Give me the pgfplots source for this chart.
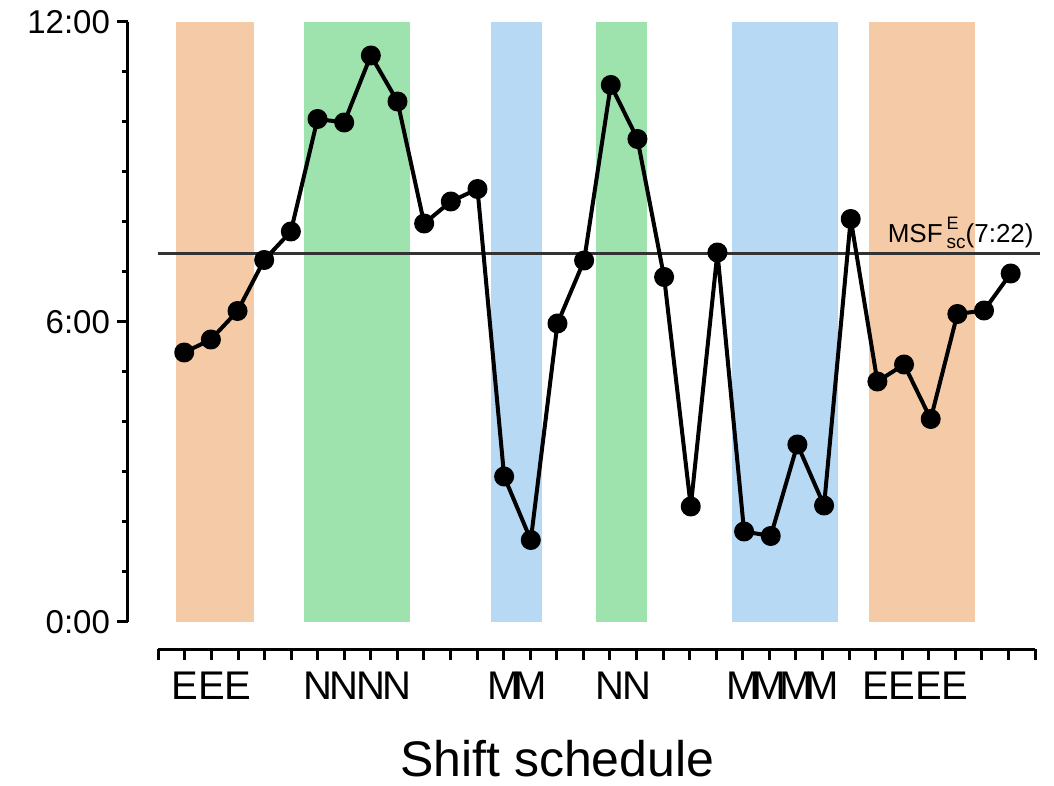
\documentclass[border=0pt]{standalone}
\usepackage{fontspec}
\setmainfont{Liberation Sans}
\usepackage{pgfplots}
\pgfplotsset{compat=1.18}
\usepackage{pgfplotstable}

% shift band colours
\definecolor{bandE}{RGB}{245,203,167}
\definecolor{bandN}{RGB}{158,226,174}
\definecolor{bandM}{RGB}{183,217,243}
\definecolor{msfgray}{RGB}{51,51,51}

% daily sleep midpoint (hours)
\pgfplotstableread{
day hours
1  5.39
2  5.65
3  6.22
4  7.24
5  7.81
6  10.06
7  9.99
8  11.33
9  10.41
10 7.97
11 8.41
12 8.66
13 2.91
14 1.64
15 5.97
16 7.23
17 10.74
18 9.66
19 6.90
20 2.31
21 7.39
22 1.81
23 1.72
24 3.55
25 2.33
26 8.06
27 4.81
28 5.15
29 4.06
30 6.16
31 6.23
32 6.97
}\sleepdata

\begin{document}
\begin{tikzpicture}
\path[use as bounding box] (-64pt,-82pt) rectangle (463pt,311pt);
\begin{axis}[
  at={(0,0)}, anchor=south west,
  scale only axis, width=456pt, height=300pt,
  xmin=-1.109, xmax=33.1, ymin=0, ymax=12,
  axis x line=none, axis y line*=left,
  y axis line style={line width=1.5pt, -},
  ytick={0,6,12}, yticklabels={0:00,6:00,12:00},
  minor y tick num=5,
  tick align=outside,
  major tick length=5.5pt, minor tick length=2.75pt,
  every tick/.style={black, line width=1.5pt},
  yticklabel style={font=\fontsize{16.5}{19}\selectfont},
  clip=false,
]
% shift blocks
\addplot[draw=none, fill=bandE, forget plot] coordinates {(0.69,0) (0.69,12) (3.61,12) (3.61,0)};
\addplot[draw=none, fill=bandN, forget plot] coordinates {(5.49,0) (5.49,12) (9.45,12) (9.45,0)};
\addplot[draw=none, fill=bandM, forget plot] coordinates {(12.49,0) (12.49,12) (14.43,12) (14.43,0)};
\addplot[draw=none, fill=bandN, forget plot] coordinates {(16.43,0) (16.43,12) (18.37,12) (18.37,0)};
\addplot[draw=none, fill=bandM, forget plot] coordinates {(21.56,0) (21.56,12) (25.52,12) (25.52,0)};
\addplot[draw=none, fill=bandE, forget plot] coordinates {(26.69,0) (26.69,12) (30.66,12) (30.66,0)};
% mid-sleep on free days, corrected
\addplot[msfgray, line width=1.75pt, forget plot] coordinates {(0,7.3667) (33.1,7.3667)};
\node[anchor=south east, inner sep=1.5pt, xshift=-1.5pt, yshift=1pt, font=\fontsize{13}{15}\selectfont]
  at (axis cs:33.1,7.3667)
  {MSF\hspace{2pt}\rlap{\raisebox{6.5pt}{\fontsize{9}{10}\selectfont E}}\raisebox{-3pt}{\fontsize{9.5}{10}\selectfont sc}(7:22)};
% daily values
\addplot[black, line width=2pt, line join=round, mark=*, mark size=4pt, mark options={solid, fill=black}]
  table[x=day, y=hours] {\sleepdata};
\end{axis}
\begin{axis}[
  at={(15.15pt,-13.5pt)}, anchor=south west,
  scale only axis, width=438.35pt, height=10pt,
  xmin=0, xmax=33, ymin=0, ymax=1,
  axis y line=none, axis x line*=bottom,
  x axis line style={line width=1.5pt, -},
  xtick={0,...,33},
  xticklabels={,E,E,E,,,N,N,N,N,,,,M,M,,,N,N,,,,M,M,M,M,,E,E,E,E,,,},
  tick align=outside,
  major tick length=5.3pt,
  every tick/.style={black, line width=1.5pt},
  xticklabel style={font=\fontsize{20}{24}\selectfont, anchor=base, yshift=-20pt},
  xlabel={Shift schedule},
  xlabel style={at={(axis description cs:0.455,0)}, anchor=base, yshift=-63.5pt,
    font=\fontsize{25}{30}\selectfont},
]
\end{axis}
\end{tikzpicture}
\end{document}
